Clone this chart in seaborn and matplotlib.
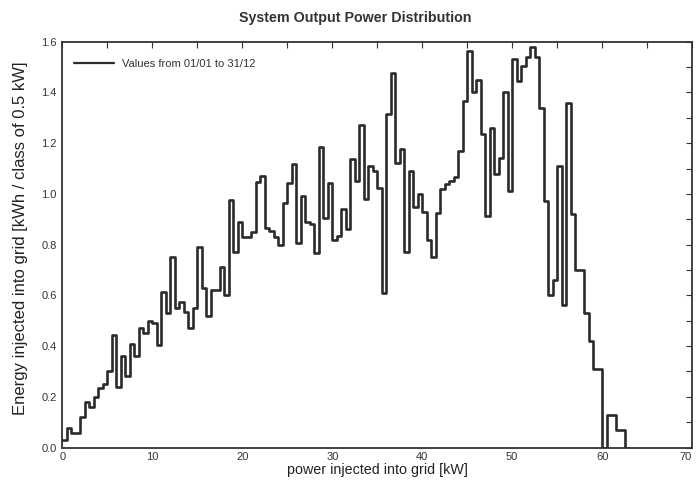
import numpy as np
import pandas as pd
import matplotlib
matplotlib.use("Agg")
import matplotlib.pyplot as plt
from matplotlib import font_manager
from matplotlib.lines import Line2D
from matplotlib.ticker import MultipleLocator, FormatStrFormatter
import seaborn as sns

# ---- data: energy per 0.5 kW class, starting at 0 kW ----
bin_width = 0.5
energy = [
    0.03, 0.075, 0.056, 0.056, 0.12, 0.18, 0.16, 0.20, 0.235, 0.25,
    0.30, 0.445, 0.24, 0.36, 0.28, 0.41, 0.36, 0.47, 0.45, 0.50,
    0.49, 0.405, 0.615, 0.53, 0.75, 0.55, 0.575, 0.535, 0.47, 0.55,
    0.79, 0.63, 0.52, 0.62, 0.62, 0.71, 0.60, 0.975, 0.77, 0.89,
    0.83, 0.83, 0.85, 1.045, 1.07, 0.866, 0.853, 0.83, 0.80, 0.965,
    1.044, 1.117, 0.807, 0.99, 0.89, 0.88, 0.767, 1.185, 0.906, 1.044,
    0.82, 0.833, 0.94, 0.862, 1.136, 1.05, 1.27, 0.978, 1.11, 1.09,
    1.024, 0.61, 1.314, 1.478, 1.12, 1.176, 0.77, 1.09, 0.95, 1.00,
    0.93, 0.82, 0.75, 0.926, 1.018, 1.037, 1.05, 1.065, 1.17, 1.367,
    1.565, 1.40, 1.45, 1.235, 0.912, 1.26, 1.08, 1.14, 1.40, 1.01,
    1.53, 1.445, 1.505, 1.54, 1.58, 1.54, 1.34, 0.97, 0.60, 0.66,
    1.11, 0.563, 1.36, 0.92, 0.70, 0.70, 0.53, 0.42, 0.31, 0.31,
    0.0, 0.13, 0.13, 0.07, 0.07, 0.0,
]
x_ticks = [0, 10, 20, 30, 40, 50, 60, 70]
legend_label = "Values from 01/01 to 31/12"
title = "System Output Power Distribution"
xlabel = "power injected into grid [kW]"
ylabel = "Energy injected into grid [kWh / class of 0.5 kW]"

n = len(energy)
centers = np.arange(n) * bin_width + bin_width / 2
df = pd.DataFrame({"power": centers, "energy": energy})

sns.set_theme(style="white")
avail = {f.name for f in font_manager.fontManager.ttflist}
fam = [f for f in ["Liberation Sans Narrow", "Liberation Sans", "DejaVu Sans"] if f in avail]
plt.rcParams["font.family"] = fam

fig = plt.figure(figsize=(6.96, 4.86), dpi=100)
ax = fig.add_axes([62.5 / 696, 38.5 / 486, 629.5 / 696, 405.8 / 486])

line_color = "#2b2b2b"
sns.histplot(data=df, x="power", weights="energy", binwidth=bin_width,
             binrange=(0, n * bin_width), element="step", fill=False,
             color=line_color, linewidth=1.9, ax=ax)

ax.set_xlim(0, 70)
ax.set_ylim(0, 1.6)
ax.set_xticks(x_ticks)
ax.xaxis.set_minor_locator(MultipleLocator(5))
ax.yaxis.set_major_locator(MultipleLocator(0.2))
ax.yaxis.set_minor_locator(MultipleLocator(0.1))
ax.yaxis.set_major_formatter(FormatStrFormatter("%.1f"))
ax.tick_params(which="both", direction="in", top=True, right=True,
               length=4, width=0.8, color="#333333",
               labelsize=8, labelcolor="#333333", pad=3)
ax.tick_params(axis="y", pad=4)

for s in ax.spines.values():
    s.set_color("#333333")
    s.set_linewidth(1.3)

# keep the last x tick label ("70") inside the picture
ax.xaxis.get_major_ticks()[-1].label1.set_horizontalalignment("right")

ax.set_xlabel(xlabel, fontsize=10.3, color="#222222", labelpad=1)
ax.set_ylabel("")
fig.text(21 / 696, 1 - 238 / 486, ylabel, rotation=90, ha="center",
         va="center", fontsize=12, color="#222222")

handle = Line2D([], [], color=line_color, linewidth=1.6)
ax.legend([handle], [legend_label], loc="upper left", frameon=False,
          fontsize=8, handlelength=3.6, borderaxespad=0.6,
          bbox_to_anchor=(0.0, 0.985), labelcolor="#333333")

fig.text(355 / 696, 1 - 18 / 486, title, ha="center", va="center",
         fontsize=10.3, fontweight="bold", color="#333333")

fig.savefig("out.png", dpi=100, facecolor="white")
